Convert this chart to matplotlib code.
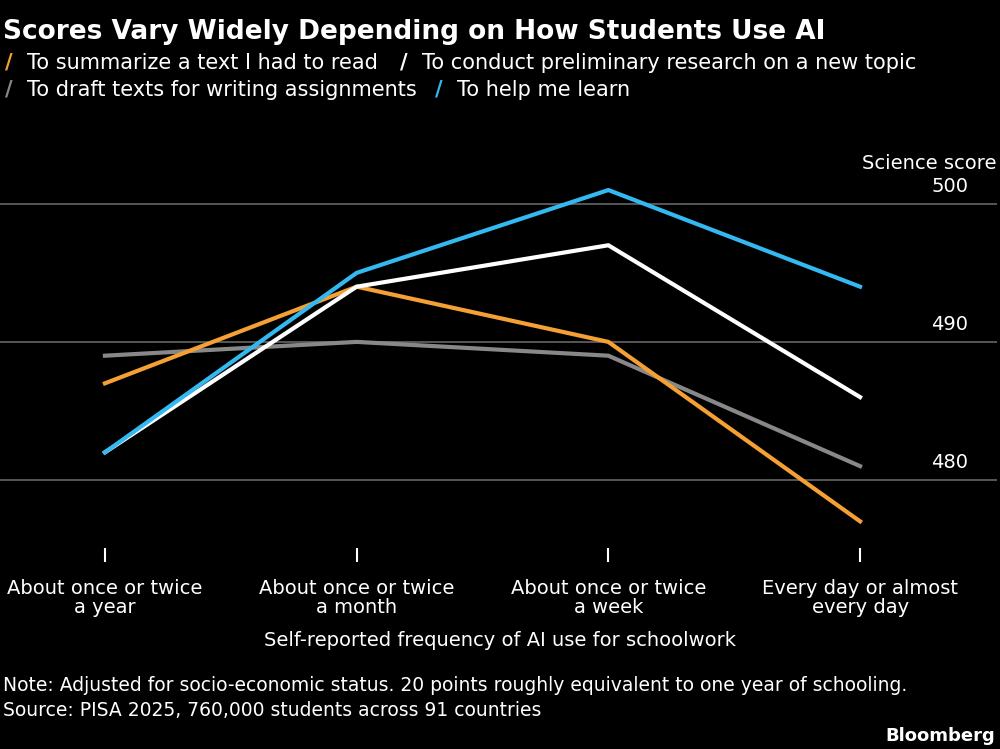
import matplotlib
matplotlib.use("Agg")
import matplotlib.pyplot as plt
from matplotlib.lines import Line2D

categories = ["About once or twice\na year", "About once or twice\na month",
              "About once or twice\na week", "Every day or almost\nevery day"]
summarize = [487, 494, 490, 477]
research = [482, 494, 497, 486]
draft = [489, 490, 489, 481]
learn = [482, 495, 501, 494]
yticks = [480, 490, 500]

fig = plt.figure(figsize=(10, 7.49), dpi=100, facecolor="black")
ax = fig.add_axes([0, (749-548)/749, 0.997, (548-150)/749], facecolor="black")
x = list(range(len(categories)))
series = [("To summarize a text I had to read", summarize, "#f5a034"),
          ("To conduct preliminary research on a new topic", research, "white"),
          ("To draft texts for writing assignments", draft, "#888888"),
          ("To help me learn", learn, "#33b8f0")]
for yv in yticks:
    ax.axhline(yv, color="#666666", lw=1.2, zorder=1)
for name, vals, c in [series[2], series[0], series[1], series[3]]:
    ax.plot(x, vals, color=c, lw=3, zorder=3)
ax.set_xlim(-0.417, 3.544)
ax.set_ylim(475.07, 503.9)
for s in ax.spines.values():
    s.set_visible(False)
ax.set_yticks([])
ax.set_xticks(x)
ax.set_xticklabels(categories, color="white", fontsize=14, linespacing=1.0)
ax.tick_params(axis="x", colors="white", length=10, width=1.5, pad=12, labelcolor="white")
for yv in yticks:
    ax.text(0.971, yv + 0.6, str(yv), transform=ax.get_yaxis_transform(),
            ha="right", va="bottom", color="white", fontsize=14)
ax.text(0.999, 502.2, "Science score", transform=ax.get_yaxis_transform(),
        ha="right", va="bottom", color="white", fontsize=14)

fig.text(0.003, 0.975, "Scores Vary Widely Depending on How Students Use AI",
         color="white", fontsize=19, fontweight="bold", va="top")
pos = [(0.005, 0.916), (0.40, 0.916), (0.005, 0.880), (0.435, 0.880)]
for (name, vals, c), (px, py) in zip(series, pos):
    fig.text(px, py, "/", color=c, fontsize=15, fontweight="bold", va="center")
    fig.text(px + 0.022, py, name, color="white", fontsize=15, va="center")
fig.text(0.5, 0.145, "Self-reported frequency of AI use for schoolwork", color="white",
         fontsize=14, ha="center", va="center")
fig.text(0.003, 0.085, "Note: Adjusted for socio-economic status. 20 points roughly equivalent to one year of schooling.",
         color="white", fontsize=13.5, va="center")
fig.text(0.003, 0.052, "Source: PISA 2025, 760,000 students across 91 countries",
         color="white", fontsize=13.5, va="center")
fig.text(0.995, 0.018, "Bloomberg", color="white", fontsize=13, fontweight="bold",
         ha="right", va="center")
fig.savefig("out.png", dpi=100, facecolor="black")
